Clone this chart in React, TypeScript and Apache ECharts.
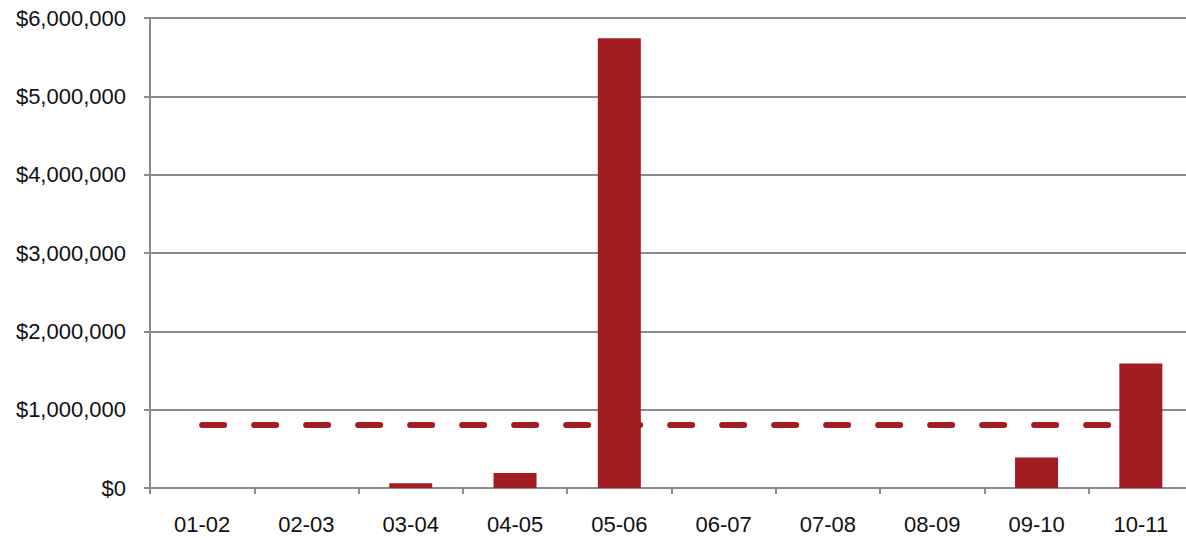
import React, { useEffect, useRef } from "react";
import * as echarts from "echarts";

const categories = ["01-02", "02-03", "03-04", "04-05", "05-06", "06-07", "07-08", "08-09", "09-10", "10-11"];
const amounts = [0, 0, 60000, 190000, 5740000, 0, 0, 0, 390000, 1590000];
const averageLine = [805000, 805000, 805000, 805000, 805000, 805000, 805000, 805000, 805000, 805000];
const yTicks = { min: 0, max: 6000000, interval: 1000000 };

const RED = "#A21D21";
const GREY = "#8C8C8C";
const FONT = "'Liberation Sans', Arial, sans-serif";

export default function App() {
  const ref = useRef<HTMLDivElement>(null);
  useEffect(() => {
    if (!ref.current) return;
    const chart = echarts.init(ref.current, undefined, { renderer: "svg" });
    chart.setOption({
      animation: false,
      backgroundColor: "#ffffff",
      grid: { left: 150, right: 0, top: 18, bottom: 50, containLabel: false },
      xAxis: {
        type: "category",
        data: categories,
        boundaryGap: true,
        axisLine: { show: true, lineStyle: { color: GREY, width: 2 } },
        axisTick: { show: true, length: 6, alignWithLabel: false, lineStyle: { color: GREY, width: 2 } },
        axisLabel: { color: "#111111", fontSize: 22, fontFamily: FONT, margin: 25, interval: 0 },
        splitLine: { show: false },
      },
      yAxis: {
        type: "value",
        min: yTicks.min,
        max: yTicks.max,
        interval: yTicks.interval,
        axisLine: { show: true, lineStyle: { color: GREY, width: 2 } },
        axisTick: { show: true, length: 6, lineStyle: { color: GREY, width: 2 } },
        axisLabel: {
          color: "#111111",
          fontSize: 22,
          fontFamily: FONT,
          margin: 24,
          padding: [7, 0, 0, 0],
          formatter: (v: number) => "$" + v.toLocaleString("en-US"),
        },
        splitLine: { show: true, lineStyle: { color: GREY, width: 2 } },
      },
      series: [
        {
          type: "bar",
          data: amounts,
          barWidth: 43,
          itemStyle: { color: RED },
          z: 2,
        },
        {
          type: "line",
          data: averageLine,
          symbol: "none",
          lineStyle: { color: RED, width: 6, type: [22, 30], cap: "round" },
          z: 3,
        },
      ],
    });
    return () => chart.dispose();
  }, []);
  return (
    <div style={{ position: "absolute", left: 0, top: 0, width: 1186, height: 538, overflow: "hidden" }}>
      <div ref={ref} style={{ width: 1193, height: 538 }} />
    </div>
  );
}
